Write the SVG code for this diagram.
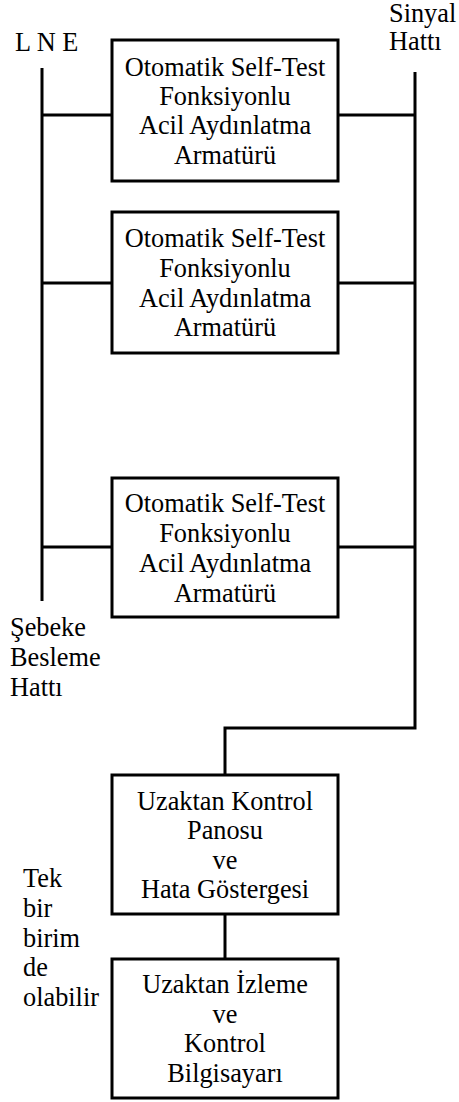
<svg xmlns="http://www.w3.org/2000/svg" width="459" height="1102" viewBox="0 0 459 1102">
  <style>
    .box { fill: #fff; stroke: #000; stroke-width: 3; }
    .wire { fill: none; stroke: #000; stroke-width: 3; }
    text { font-family: "Liberation Serif", "Times New Roman", serif; font-size: 26.3px; fill: #000; }
    .c { text-anchor: middle; }
  </style>
  <rect width="459" height="1102" fill="#fff"/>

  <!-- wiring -->
  <g id="connectors">
    <!-- mains bus (L N E) -->
    <line class="wire" x1="42" y1="68" x2="42" y2="601"/>
    <!-- signal line -->
    <polyline class="wire" points="415,72 415,728 225,728 225,775"/>
    <!-- taps to fittings -->
    <line class="wire" x1="42" y1="115" x2="112" y2="115"/>
    <line class="wire" x1="338" y1="115" x2="415" y2="115"/>
    <line class="wire" x1="42" y1="283" x2="112" y2="283"/>
    <line class="wire" x1="338" y1="283" x2="415" y2="283"/>
    <line class="wire" x1="42" y1="547" x2="112" y2="547"/>
    <line class="wire" x1="338" y1="547" x2="415" y2="547"/>
    <!-- panel to computer -->
    <line class="wire" x1="225" y1="914" x2="225" y2="959"/>
  </g>

  <!-- bus labels -->
  <g id="label-lne"><text x="15" y="51">L N E</text></g>
  <g id="label-signal">
    <text x="389" y="22">Sinyal</text>
    <text x="389" y="50">Hattı</text>
  </g>
  <g id="label-mains">
    <text x="10" y="636">Şebeke</text>
    <text x="10" y="666">Besleme</text>
    <text x="10" y="696">Hattı</text>
  </g>
  <g id="label-single">
    <text x="23" y="887">Tek</text>
    <text x="23" y="917">bir</text>
    <text x="23" y="947">birim</text>
    <text x="23" y="976">de</text>
    <text x="23" y="1006">olabilir</text>
  </g>

  <!-- emergency lighting fittings -->
  <g id="fitting-1">
    <rect class="box" x="112" y="40" width="226" height="141"/>
    <text class="c" x="225" y="76">Otomatik Self-Test</text>
    <text class="c" x="225" y="105">Fonksiyonlu</text>
    <text class="c" x="225" y="134">Acil Aydınlatma</text>
    <text class="c" x="225" y="164">Armatürü</text>
  </g>
  <g id="fitting-2">
    <rect class="box" x="112" y="212" width="226" height="141"/>
    <text class="c" x="225" y="247">Otomatik Self-Test</text>
    <text class="c" x="225" y="277">Fonksiyonlu</text>
    <text class="c" x="225" y="307">Acil Aydınlatma</text>
    <text class="c" x="225" y="336">Armatürü</text>
  </g>
  <g id="fitting-3">
    <rect class="box" x="112" y="478" width="226" height="139"/>
    <text class="c" x="225" y="512">Otomatik Self-Test</text>
    <text class="c" x="225" y="542">Fonksiyonlu</text>
    <text class="c" x="225" y="572">Acil Aydınlatma</text>
    <text class="c" x="225" y="602">Armatürü</text>
  </g>

  <!-- control panel -->
  <g id="control-panel">
    <rect class="box" x="112" y="775" width="226" height="139"/>
    <text class="c" x="225" y="810">Uzaktan Kontrol</text>
    <text class="c" x="225" y="839">Panosu</text>
    <text class="c" x="225" y="869">ve</text>
    <text class="c" x="225" y="898">Hata Göstergesi</text>
  </g>

  <!-- monitoring computer -->
  <g id="monitoring-pc">
    <rect class="box" x="112" y="959" width="226" height="139"/>
    <text class="c" x="225" y="993">Uzaktan İzleme</text>
    <text class="c" x="225" y="1023">ve</text>
    <text class="c" x="225" y="1052">Kontrol</text>
    <text class="c" x="225" y="1082">Bilgisayarı</text>
  </g>
</svg>
